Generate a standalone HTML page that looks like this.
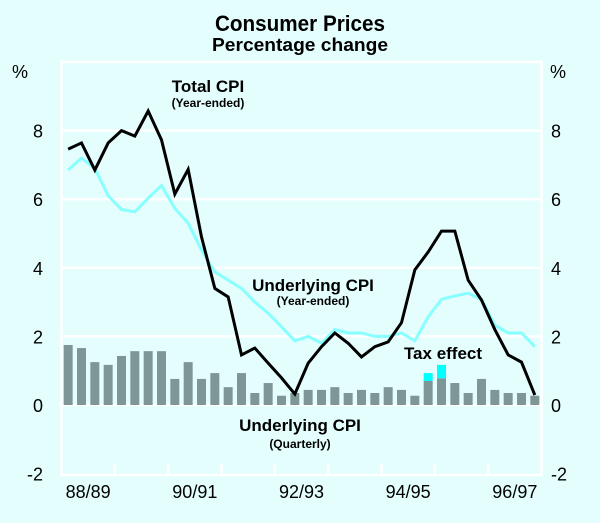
<!DOCTYPE html>
<html><head><meta charset="utf-8"><style>
html,body{margin:0;padding:0;background:#e4fefe;}
svg{display:block;font-family:"Liberation Sans",Arial,sans-serif;}
</style></head><body>
<svg id="chart" width="600" height="523" viewBox="0 0 600 523">
<rect x="0" y="0" width="600" height="523" fill="#e4fefe"/>
<text x="300" y="31" text-anchor="middle" font-size="22" font-weight="bold" textLength="170" lengthAdjust="spacingAndGlyphs">Consumer Prices</text>
<text x="300" y="51" text-anchor="middle" font-size="18" font-weight="bold" textLength="176" lengthAdjust="spacingAndGlyphs">Percentage change</text>
<g id="grid"></g>
<g id="bars"></g>
<g id="lines"></g>
<g id="axes"></g>
<text x="12" y="78" font-size="18">%</text>
<text x="550" y="78" font-size="18">%</text>
<text x="208" y="92" text-anchor="middle" font-size="17" font-weight="bold">Total CPI</text>
<text x="208" y="107" text-anchor="middle" font-size="12" font-weight="bold">(Year-ended)</text>
<text x="313" y="291" text-anchor="middle" font-size="17" font-weight="bold">Underlying CPI</text>
<text x="313" y="305" text-anchor="middle" font-size="12" font-weight="bold">(Year-ended)</text>
<text x="443" y="359" text-anchor="middle" font-size="17" font-weight="bold">Tax effect</text>
<text x="300" y="431" text-anchor="middle" font-size="17" font-weight="bold">Underlying CPI</text>
<text x="300" y="448" text-anchor="middle" font-size="12" font-weight="bold">(Quarterly)</text>
</svg>
<script>
const yTicks=[-2,0,2,4,6,8];
const yearLabels=["88/89","90/91","92/93","94/95","96/97"];
const totalCPI=[7.46,7.64,6.85,7.64,8.0,7.84,8.57,7.73,6.15,6.87,4.9,3.4,3.15,1.46,1.66,1.22,0.79,0.32,1.22,1.7,2.1,1.8,1.4,1.7,1.84,2.4,3.94,4.46,5.07,5.07,3.64,3.06,2.2,1.46,1.25,0.29];
const underlyingCPI=[6.85,7.2,6.9,6.1,5.7,5.63,6.03,6.4,5.73,5.3,4.52,3.88,3.64,3.4,3.0,2.68,2.28,1.87,2.0,1.8,2.2,2.1,2.1,2.0,2.0,2.1,1.87,2.57,3.08,3.18,3.26,3.08,2.33,2.1,2.1,1.7];
const quarterly=[1.75,1.66,1.25,1.17,1.43,1.57,1.57,1.57,0.76,1.25,0.76,0.93,0.52,0.93,0.35,0.64,0.27,0.35,0.44,0.44,0.52,0.35,0.44,0.35,0.52,0.44,0.27,0.7,0.78,0.64,0.35,0.76,0.44,0.35,0.35,0.27];
const taxEffect=[0,0,0,0,0,0,0,0,0,0,0,0,0,0,0,0,0,0,0,0,0,0,0,0,0,0,0,0.23,0.39,0,0,0,0,0,0,0];
const NS="http://www.w3.org/2000/svg";
const L=61.5,R=541.5,T=62,B=475;
const n=totalCPI.length, qw=(R-L)/n;
function xq(i){return L+qw*(i+0.5);}
function y(v){return 405-v*34.3;}
function mk(tag,attrs,parent){const e=document.createElementNS(NS,tag);for(const k in attrs)e.setAttribute(k,attrs[k]);parent.appendChild(e);return e;}
const grid=document.getElementById('grid'),bars=document.getElementById('bars'),lines=document.getElementById('lines'),axes=document.getElementById('axes');
mk('rect',{x:L,y:T,width:R-L,height:B-T,fill:'#e4fefe',stroke:'#ffffff','stroke-width':2.5},grid);
yTicks.forEach(v=>{if(v>-2){const g=mk('line',{x1:L,x2:R,y1:y(v),y2:y(v),stroke:'#ffffff','stroke-width':2.5},grid);

}});
yTicks.forEach(v=>{
 const a=mk('text',{x:43,y:y(v)+7,'text-anchor':'end','font-size':18},axes);a.textContent=v;
 
 
 const b=mk('text',{x:551,y:y(v)+7,'font-size':18},axes);b.textContent=v;
 
 
});
for(let k=1;k<n/4;k++){const xx=L+qw*4*k;const t=mk('line',{x1:xx,x2:xx,y1:B,y2:B-11,stroke:'#ffffff','stroke-width':2.5},axes);

}
yearLabels.forEach((s,k)=>{const t=mk('text',{x:L+qw*4*(2*k+0.5),y:498,'text-anchor':'middle','font-size':18},axes);t.textContent=s;

});
quarterly.forEach((v,i)=>{
 const r=mk('rect',{x:xq(i)-4.5,y:y(v),width:9,height:y(0)-y(v),fill:'#7f9696'},bars);
 
 
 if(taxEffect[i]>0){const t=mk('rect',{x:xq(i)-4.5,y:y(v+taxEffect[i]),width:9,height:y(v)-y(v+taxEffect[i]),fill:'#00ffff'},bars);
 
 }
});
function line(data,color,name){const p=mk('polyline',{points:data.map((v,i)=>xq(i)+','+y(v)).join(' '),fill:'none',stroke:color,'stroke-width':3,'stroke-linejoin':'miter'},lines);

}
line(underlyingCPI,'#88ffff','underlying-cpi-line');
line(totalCPI,'#000000','total-cpi-line');
</script>
</body></html>
